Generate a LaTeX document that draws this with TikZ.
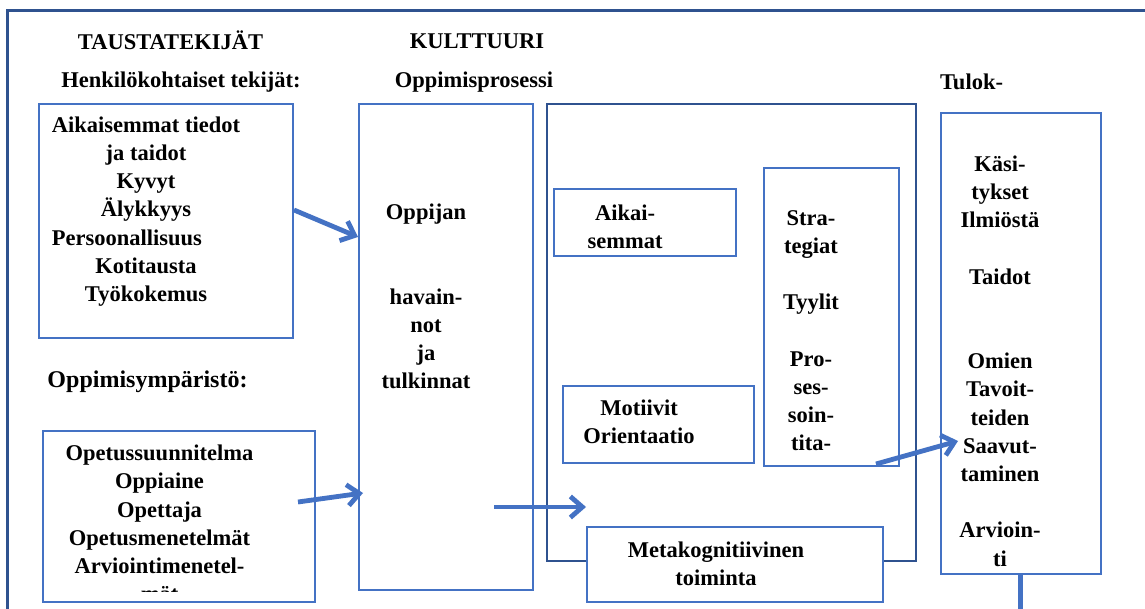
\documentclass[tikz,border=0pt]{standalone}
\usepackage{fontspec}
\usepackage{calc}
\setmainfont{Liberation Serif}
\usetikzlibrary{arrows.meta,calc}
\definecolor{boxblue}{HTML}{4472C4}
\definecolor{darkblue}{HTML}{2F528F}
\tikzset{
  box/.style={draw=boxblue, line width=1.6pt, fill=white, inner sep=0pt, outer sep=0pt},
  darkbox/.style={draw=darkblue, line width=2.2pt, inner sep=0pt, outer sep=0pt},
  txt/.style={font=\bfseries\fontsize{22.5}{28.2}\selectfont, align=center, inner sep=0pt, text=black},
  head/.style={font=\bfseries\fontsize{22.5}{28.2}\selectfont, inner sep=0pt, text=black},
  flow/.style={draw=boxblue, line width=4.8pt, -{Straight Barb[length=12pt,width=21pt]}},
}
\begin{document}
\begin{tikzpicture}[x=1pt,y=-1pt]
\useasboundingbox (0,0) rectangle (1145,609);
\clip (0,0) rectangle (1145,609);
\fill[white] (0,0) rectangle (1145,609);
% outer frame
\draw[draw=darkblue, line width=3pt] (7,11) rectangle (1160,630);
% headings
\node[head] (h1) at (170.5,40) {TAUSTATEKIJÄT};
\node[head] (h2) at (477,41) {KULTTUURI};
\node[head] (h3) at (181,82) {Henkilökohtaiset tekijät:};
\node[head] (h4) at (474,82) {Oppimisprosessi};
\node[head] (h5) at (971.5,82) {Tulok-};
\node[head, font=\bfseries\fontsize{24}{28}\selectfont] (h6) at (147.5,382) {Oppimisympäristö:};
% boxes
\node[box, minimum width=254pt, minimum height=234pt] (b1) at (166,221) {};
\node[box, minimum width=272pt, minimum height=171pt] (b2) at (179,516.5) {};
\node[box, minimum width=174pt, minimum height=486pt] (opp) at (446,347) {};
\node[darkbox, minimum width=369pt, minimum height=457pt] (big) at (731.5,332.5) {};
\node[box, minimum width=182pt, minimum height=67pt] (aik) at (645,222.5) {};
\node[box, minimum width=191pt, minimum height=77pt] (mot) at (658.5,424.5) {};
\node[box, minimum width=135pt, minimum height=298pt] (str) at (831.5,317) {};
\node[box, minimum width=296pt, minimum height=75pt] (meta) at (735,564.5) {};
\node[box, minimum width=160pt, minimum height=461pt] (tul) at (1021,343.5) {};
% texts
\node[txt] (t1) at (146,211.5) {Aikaisemmat tiedot\\ja taidot\\Kyvyt\\Älykkyys\\\makebox[\widthof{Aikaisemmat tiedot}][l]{Persoonallisuus}\\Kotitausta\\Työkokemus};
\begin{scope}
\clip (b2.north west) rectangle ($(b2.south east)+(0,-11)$);
\node[txt] (t2) at (159.5,523.5) {Opetussuunnitelma\\Oppiaine\\Opettaja\\Opetusmenetelmät\\Arviointimenetel-\\mät};
\end{scope}
\node[txt] (t3) at (426,296.5) {Oppijan\\ \\ \\havain-\\not\\ja\\tulkinnat};
\node[txt] (t4) at (625,226.5) {Aikai-\\semmat};
\node[txt] (t5) at (639,421.5) {Motiivit\\Orientaatio};
\node[txt] (t6) at (811,330.5) {Stra-\\tegiat\\ \\Tyylit\\ \\Pro-\\ses-\\soin-\\tita-};
\node[txt] (t7) at (1000,361) {Käsi-\\tykset\\Ilmiöstä\\ \\Taidot\\ \\ \\Omien\\Tavoit-\\teiden\\Saavut-\\taminen\\ \\Arvioin-\\ti};
\node[txt] (t8) at (716,564) {Metakognitiivinen\\toiminta};
% connectors
\draw[flow] ($(b1.east)+(1,-11)$) -- ($(opp.west)+(-1,-110)$);
\draw[flow] ($(b2.east)+(-17,-14.5)$) -- ($(opp.west)+(4,146)$);
\draw[flow] ($(opp.east)+(-39,160)$) -- ($(big.west)+(39,174.5)$);
\draw[flow] ($(str.south)+(44.5,-2)$) -- ($(tul.west)+(17,97.5)$);
\coordinate (bot) at ($(tul.south)+(-1,50)$);
\draw[draw=boxblue, line width=5pt] ($(tul.south)+(-1,0)$) -- (bot);
\end{tikzpicture}
\end{document}
